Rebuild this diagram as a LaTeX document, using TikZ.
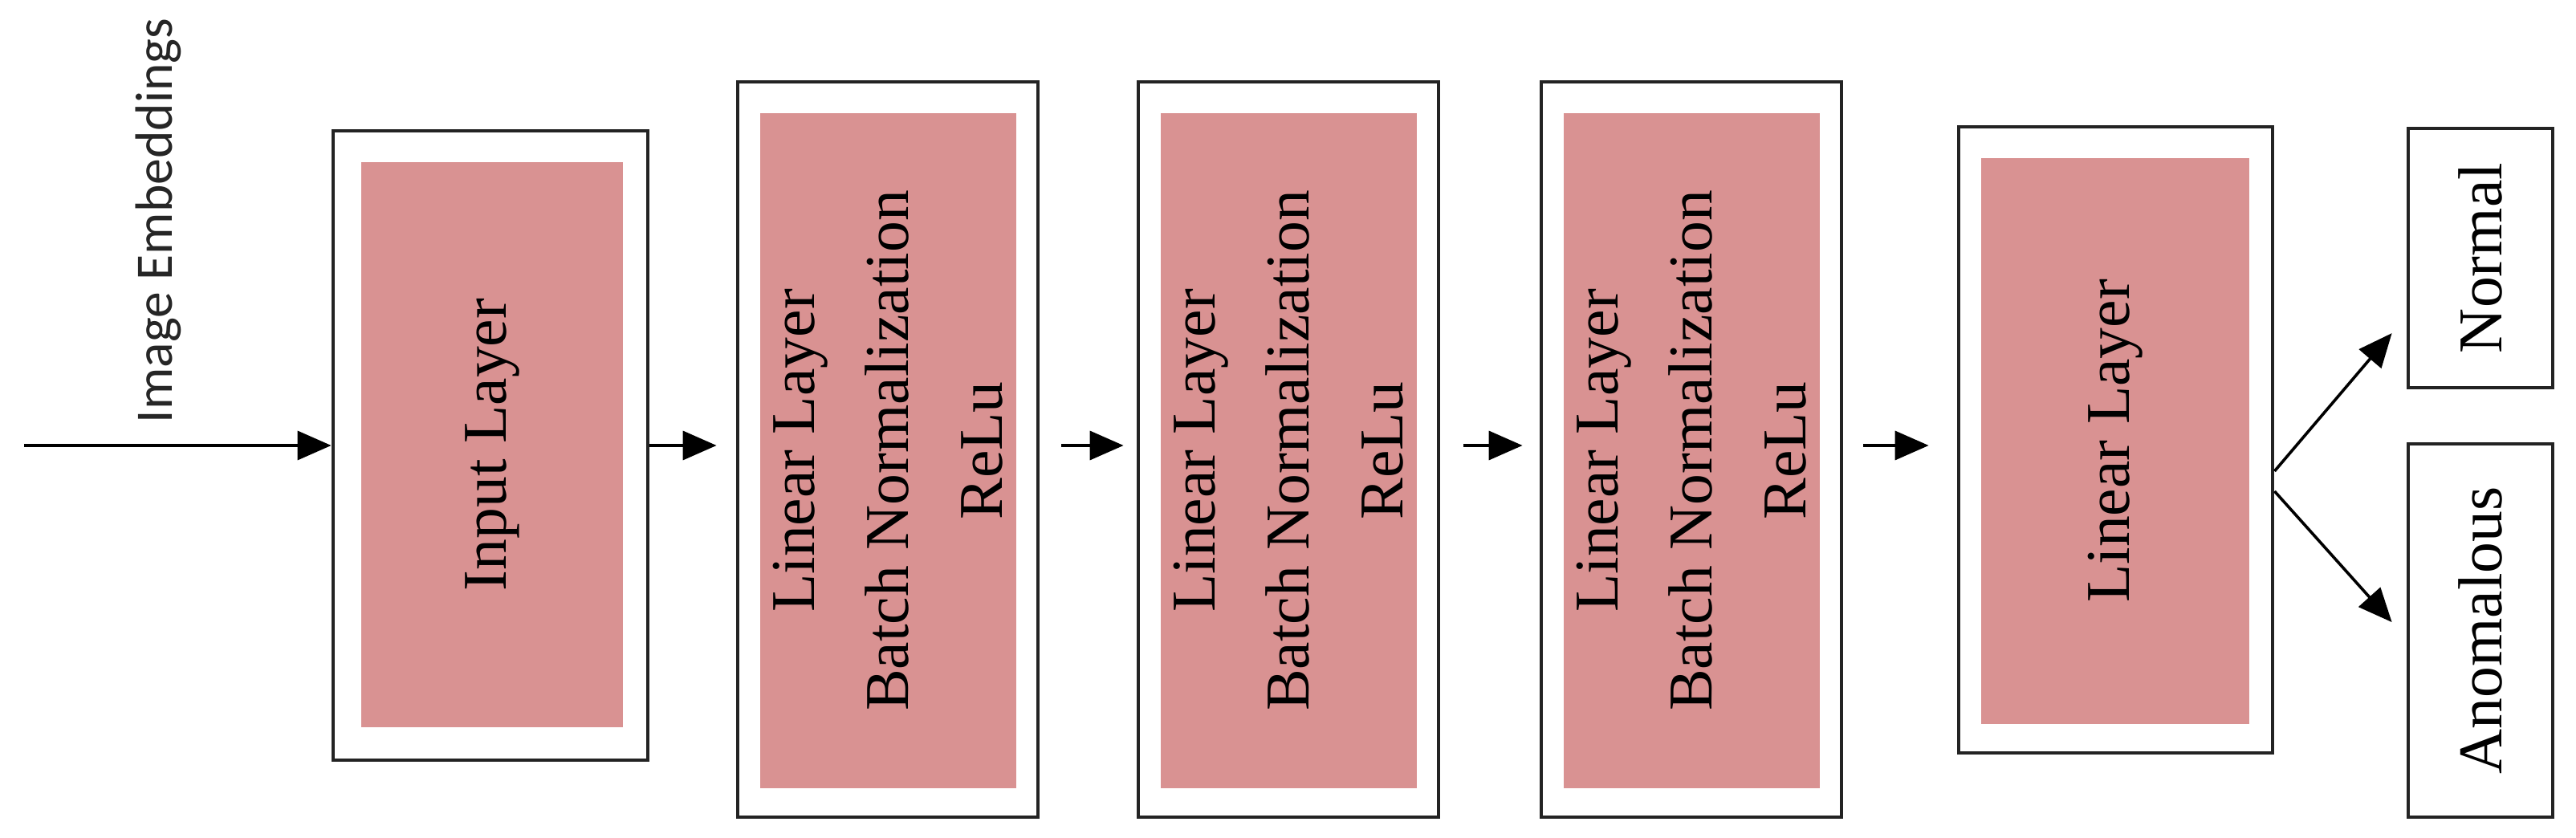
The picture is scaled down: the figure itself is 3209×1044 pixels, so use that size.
\documentclass[tikz,border=0pt]{standalone}
\usepackage{fontspec}
\setmainfont{Liberation Serif}
\newfontfamily\embfont{Carlito}
\usetikzlibrary{arrows.meta,calc}
\definecolor{pinkfill}{RGB}{217,146,146}
\definecolor{framecol}{RGB}{35,35,35}
\begin{document}
\begin{tikzpicture}[x=0.25pt,y=-0.25pt,
  outerbox/.style={draw=framecol,line width=1.2pt,fill=white,inner sep=0pt},
  innerbox/.style={fill=pinkfill,inner sep=0pt,rotate=90,align=center,
    font=\fontsize{19.4}{29.25}\selectfont},
  outbox/.style={draw=framecol,line width=1.2pt,fill=white,inner sep=0pt,
    minimum width=45pt,font=\fontsize{19.4}{23}\selectfont},
  arr/.style={line width=0.9pt,-{Triangle[length=10.5pt,width=9pt]}}
]
\useasboundingbox (0,0) rectangle (3209,1044);

% layer 1
\node[outerbox,minimum width=98pt,minimum height=196pt] (b1) at (611,555) {};
\node[innerbox,minimum width=176pt,minimum height=81.5pt] (b1in) at (613,554) {Input Layer};
% layer 2
\node[outerbox,minimum width=93.5pt,minimum height=229pt] (b2) at (1106,560) {};
\node[innerbox,minimum width=210.25pt,minimum height=79.75pt] (b2in) at (1106.5,561.5)
  {Linear Layer\\Batch Normalization\\ReLu};
% layer 3
\node[outerbox,minimum width=93.5pt,minimum height=229pt] (b3) at (1605,560) {};
\node[innerbox,minimum width=210.25pt,minimum height=79.75pt] (b3in) at (1605.5,561.5)
  {Linear Layer\\Batch Normalization\\ReLu};
% layer 4
\node[outerbox,minimum width=93.5pt,minimum height=229pt] (b4) at (2107,560) {};
\node[innerbox,minimum width=210.25pt,minimum height=79.75pt] (b4in) at (2107.5,561.5)
  {Linear Layer\\Batch Normalization\\ReLu};
% layer 5
\node[outerbox,minimum width=97.75pt,minimum height=195pt] (b5) at (2635.5,548) {};
\node[innerbox,minimum width=176.25pt,minimum height=83.5pt] (b5in) at (2635,549.5) {Linear Layer};

% outputs
\node[outbox,minimum height=80.75pt] (nrm) at (3090,321.5) {};
\node[rotate=90,font=\fontsize{19.4}{23}\selectfont,inner sep=0pt] (nrmt) at (nrm.center) {Normal};
\node[outbox,minimum height=116.25pt] (anm) at (3090,785.5) {};
\node[rotate=90,font=\fontsize{19.4}{23}\selectfont,inner sep=0pt] (anmt) at (anm.center) {Anomalous};

% input label
\node[rotate=90,font=\embfont\fontsize{16.4}{20}\selectfont,text=black!85,inner sep=0pt] (emb) at (197,275) {Image Embeddings};

% connectors
\coordinate (src) at (30,555);
\draw[arr] (src) -- (b1.west);
\draw[arr,shorten >=6pt] (b1.east) -- (b1.east -| b2.west);
\draw[arr,shorten <=6.75pt,shorten >=4pt] (b2.east |- b1.east) -- (b1.east -| b3.west);
\draw[arr,shorten <=7.25pt,shorten >=5.25pt] (b3.east |- b1.east) -- (b1.east -| b4.west);
\draw[arr,shorten <=6.25pt,shorten >=8.75pt] (b4.east |- b1.east) -- (b1.east -| b5.west);
\draw[arr] ([yshift=-9.75pt]b5.east) -- ([xshift=-4.5pt,yshift=-23.4pt]nrm.west);
\draw[arr] ([yshift=-16pt]b5.east) -- ([xshift=-4.5pt,yshift=2.6pt]anm.west);
\end{tikzpicture}
\end{document}
